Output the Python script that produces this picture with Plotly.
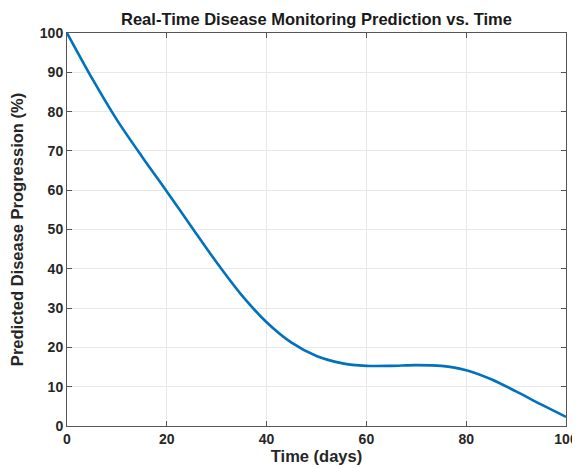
import plotly.graph_objects as go

time_days = [0, 5, 10, 15, 20, 25, 30, 35, 40, 45, 50, 55, 60, 65, 70, 75, 80, 85, 90, 95, 100]
progression = [100, 88.5, 77.9, 68.6, 59.7, 50.6, 41.6, 33.3, 26.4, 21.2, 17.8, 16.0, 15.3,
               15.3, 15.5, 15.3, 14.2, 11.9, 8.8, 5.5, 2.3]
x_ticks = [0, 20, 40, 60, 80, 100]
y_ticks = [0, 10, 20, 30, 40, 50, 60, 70, 80, 90, 100]

fig = go.Figure()
fig.add_trace(go.Scatter(x=time_days, y=progression, mode="lines",
                         line=dict(color="#0072BD", width=2.6, shape="spline", smoothing=0.8)))

font_family = "Liberation Sans, Arial, sans-serif"
axis_common = dict(
    showline=True, linecolor="#555555", linewidth=1, mirror="ticks",
    ticks="inside", ticklen=5, tickcolor="#555555", tickwidth=1,
    showgrid=True, gridcolor="#e8e8e8", gridwidth=1, zeroline=False,
    automargin=False,
    tickfont=dict(family=font_family, size=14, color="#262626", weight="bold"),
)

# page body has an 8px margin, so the figure is sized/offset to compensate
fig.update_layout(
    width=572, height=460,
    margin=dict(l=59, r=14, t=25, b=42),
    paper_bgcolor="white", plot_bgcolor="white",
    showlegend=False,
    title=dict(text="<b>Real-Time Disease Monitoring Prediction vs. Time</b>",
               x=0.5, xref="paper", xanchor="center", y=1, yref="container", yanchor="top",
               pad=dict(t=5),
               font=dict(family=font_family, size=16.5, color="#1a1a1a")),
    xaxis=dict(range=[0, 100], tickvals=x_ticks,
               title=dict(text="<b>Time (days)</b>", standoff=0,
                          font=dict(family=font_family, size=16.5, color="#262626")),
               **axis_common),
    yaxis=dict(range=[0, 100], tickvals=y_ticks,
               title=dict(text="<b>Predicted Disease Progression (%)</b>", standoff=16,
                          font=dict(family=font_family, size=16.5, color="#262626")),
               **axis_common),
)

fig.write_html("out.html")
